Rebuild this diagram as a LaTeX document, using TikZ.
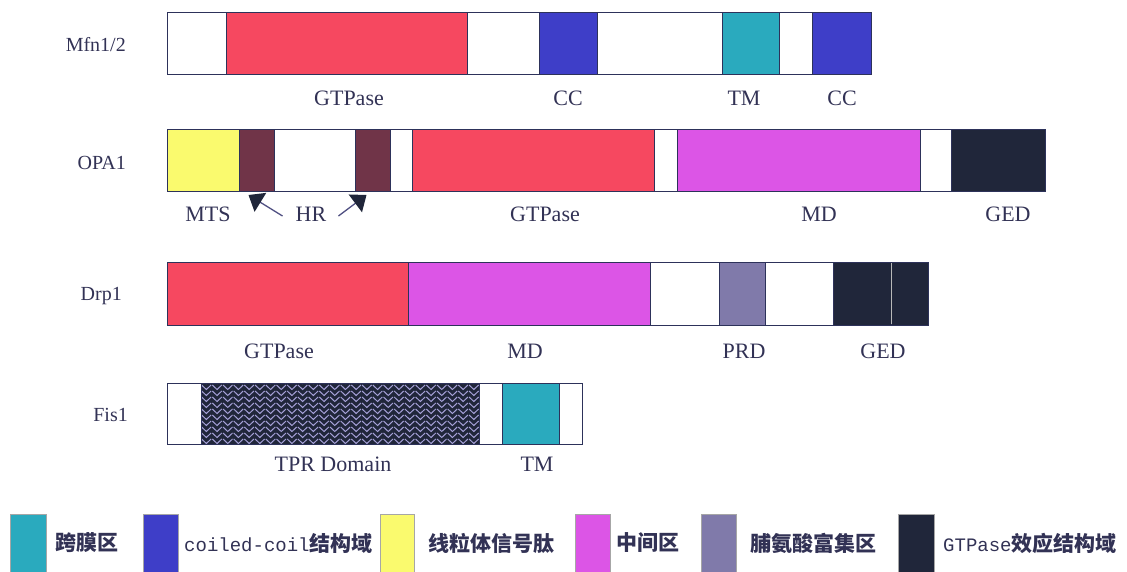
\documentclass[tikz,border=0pt]{standalone}
\usepackage{fontspec}
\setmainfont{Liberation Serif}
\newfontfamily\cjk{Noto Sans CJK SC}
\newfontfamily\monof{Liberation Mono}
\usetikzlibrary{fit,arrows.meta,calc}
\definecolor{cred}{RGB}{246,72,96}
\definecolor{cblue}{RGB}{62,62,200}
\definecolor{cteal}{RGB}{42,170,190}
\definecolor{cyel}{RGB}{250,250,110}
\definecolor{cbrown}{RGB}{112,52,72}
\definecolor{cmag}{RGB}{220,85,230}
\definecolor{cgrey}{RGB}{128,122,170}
\definecolor{cblack}{RGB}{32,38,58}
\definecolor{outl}{RGB}{45,50,90}
\definecolor{txt}{RGB}{50,50,85}
\definecolor{patl}{RGB}{165,160,215}
\definecolor{arrc}{RGB}{80,80,130}
\newcommand\dseg[6]{\node[segbox,fill=#2,fit={(#3,#5)(#4,#6)}] (#1) {};}
\begin{document}
\begin{tikzpicture}[x=1pt,y=-1pt,
  segbox/.style={draw=outl,line width=0.9pt,inner sep=0pt,outer sep=0pt},
  lab/.style={font=\fontsize{22}{24}\selectfont,text=txt,inner sep=0pt},
  pname/.style={font=\fontsize{20}{22}\selectfont,text=txt,anchor=east,inner sep=0pt},
  legbox/.style={draw=gray!70,line width=0.6pt,inner sep=0pt},
  legtext/.style={anchor=west,text=txt,inner sep=0pt,font=\fontsize{21}{23}\selectfont\bfseries},
  hrarr/.style={draw=arrc,line width=1.3pt,-{Triangle[width=22pt,length=14pt,color=cblack]}},
  patline/.style={draw=patl,line width=1pt}]
\useasboundingbox (0,0) rectangle (1127,572);
% ---------------- Mfn1/2
\node[pname] (nm) at (126,45) {Mfn1/2};
\dseg{m1}{white}{167}{226}{12}{74}
\dseg{m2}{cred}{226}{467}{12}{74}
\dseg{m3}{white}{467}{539}{12}{74}
\dseg{m4}{cblue}{539}{597}{12}{74}
\dseg{m5}{white}{597}{722}{12}{74}
\dseg{m6}{cteal}{722}{779}{12}{74}
\dseg{m7}{white}{779}{812}{12}{74}
\dseg{m8}{cblue}{812}{871}{12}{74}
\node[lab] (lm1) at (349,98) {GTPase};
\node[lab] (lm2) at (568,98) {CC};
\node[lab] (lm3) at (744,98) {TM};
\node[lab] (lm4) at (842,98) {CC};
% ---------------- OPA1
\node[pname] (no) at (126,163) {OPA1};
\dseg{o1}{cyel}{167}{239}{129}{191}
\dseg{o2}{cbrown}{239}{274}{129}{191}
\dseg{o3}{white}{274}{355}{129}{191}
\dseg{o4}{cbrown}{355}{390}{129}{191}
\dseg{o5}{white}{390}{412}{129}{191}
\dseg{o6}{cred}{412}{654}{129}{191}
\dseg{o7}{white}{654}{677}{129}{191}
\dseg{o8}{cmag}{677}{920}{129}{191}
\dseg{o9}{white}{920}{951}{129}{191}
\dseg{o10}{cblack}{951}{1045}{129}{191}
\node[lab] (lo1) at (208,214) {MTS};
\node[lab] (hr) at (311,214) {HR};
\node[lab] (lo3) at (545,214) {GTPase};
\node[lab] (lo4) at (819,214) {MD};
\node[lab] (lo5) at (1008,214) {GED};
\draw[hrarr] ($(hr.west)+(-13,2)$) -- ($(o2.south)+(-8,4)$);
\draw[hrarr] ($(hr.east)+(12,2)$) -- ($(o4.south)+(-6,4)$);
% ---------------- Drp1
\node[pname] (nd) at (122,296) {Drp1};
\dseg{d1}{cred}{167}{408}{262}{325}
\dseg{d2}{cmag}{408}{650}{262}{325}
\dseg{d3}{white}{650}{719}{262}{325}
\dseg{d4}{cgrey}{719}{765}{262}{325}
\dseg{d5}{white}{765}{833}{262}{325}
\dseg{d6}{cblack}{833}{891}{262}{325}
\dseg{d7}{cblack}{891}{928}{262}{325}
\draw[gray!55,line width=0.6pt] ($(d6.north east)+(0,1)$) -- ($(d6.south east)+(0,-1)$);
\node[lab] (ld1) at (279,351) {GTPase};
\node[lab] (ld2) at (525,351) {MD};
\node[lab] (ld3) at (744,351) {PRD};
\node[lab] (ld4) at (883,351) {GED};
% ---------------- Fis1
\node[pname] (nf) at (128,415) {Fis1};
\dseg{f1}{white}{167}{201}{383}{444}
\dseg{f2}{cblack}{201}{479}{383}{444}
\begin{scope}
\clip (201,383) rectangle (479,444);
\foreach \c in {0,...,25}{
  \foreach \r in {0,...,11}{
    \draw[patline] ({201+\c*10.7+0.6},{379+\r*6}) -- ++(4.75,4.5) -- ++(4.75,-4.5);
  }
}
\end{scope}
\node[segbox,fit=(f2)] (f2b) {};
\dseg{f3}{white}{479}{502}{383}{444}
\dseg{f4}{cteal}{502}{559}{383}{444}
\dseg{f5}{white}{559}{582}{383}{444}
\node[lab] (lf1) at (333,464) {TPR Domain};
\node[lab] (lf2) at (537,464) {TM};
% ---------------- legend
\node[legbox,fill=cteal,fit={(10,514)(46,576)}] (k1) {};
\node[legtext] (t1) at (55,543) {\cjk 跨膜区};
\node[legbox,fill=cblue,fit={(143,514)(178,576)}] (k2) {};
\node[legtext] (t2) at (184,543) {\monof\mdseries\fontsize{19}{21}\selectfont coiled-coil\cjk\bfseries\fontsize{21}{23}\selectfont 结构域};
\node[legbox,fill=cyel,fit={(380,514)(414,576)}] (k3) {};
\node[legtext] (t3) at (428,543) {\cjk 线粒体信号肽};
\node[legbox,fill=cmag,fit={(575,514)(610,576)}] (k4) {};
\node[legtext] (t4) at (616,543) {\cjk 中间区};
\node[legbox,fill=cgrey,fit={(701,514)(736,576)}] (k5) {};
\node[legtext] (t5) at (750,543) {\cjk 脯氨酸富集区};
\node[legbox,fill=cblack,fit={(898,514)(934,576)}] (k6) {};
\node[legtext] (t6) at (943,543) {\monof\mdseries\fontsize{19}{21}\selectfont GTPase\cjk\bfseries\fontsize{21}{23}\selectfont 效应结构域};
\end{tikzpicture}
\end{document}
